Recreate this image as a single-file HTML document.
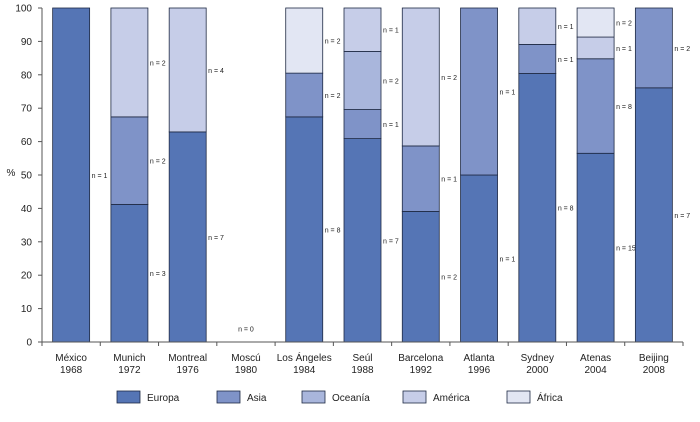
<!DOCTYPE html>
<html><head><meta charset="utf-8"><style>
body{margin:0;background:#fff;}
svg{font-family:"Liberation Sans",sans-serif;}
</style></head><body>
<svg id="chart" width="700" height="417"></svg>
<script>
const categories=["México\n1968","Munich\n1972","Montreal\n1976","Moscú\n1980","Los Ángeles\n1984","Seúl\n1988","Barcelona\n1992","Atlanta\n1996","Sydney\n2000","Atenas\n2004","Beijing\n2008"];
const seriesNames=["Europa","Asia","Oceanía","América","África"];
const europa=[100,41.2,62.9,0,67.4,60.9,39.1,50,80.4,56.5,76.1];
const asia=[0,26.2,0,0,13.1,8.7,19.6,50,8.7,28.3,23.9];
const oceania=[0,0,0,0,0,17.4,0,0,0,0,0];
const america=[0,32.6,37.1,0,0,13,41.3,0,10.9,6.5,0];
const africa=[0,0,0,0,19.5,0,0,0,0,8.7,0];
const nEuropa=[1,3,7,0,8,7,2,1,8,15,7];
const nAsia=[0,2,0,0,2,1,1,1,1,8,2];
const nOceania=[0,0,0,0,0,2,0,0,0,0,0];
const nAmerica=[0,2,4,0,0,1,2,0,1,1,0];
const nAfrica=[0,0,0,0,2,0,0,0,0,2,0];
const yTicks=[0,10,20,30,40,50,60,70,80,90,100];

const colors=["#5575b5","#7f93c8","#a9b6dc","#c6cde8","#e2e6f3"];
const series=[europa,asia,oceania,america,africa];
const nvals=[nEuropa,nAsia,nOceania,nAmerica,nAfrica];
const svg=document.getElementById('chart');
const NS="http://www.w3.org/2000/svg";
const x0=42,x1=683,y0=342,yTop=8;
const band=(x1-x0)/categories.length, bw=37;
const y=v=>y0-(v/100)*(y0-yTop);
const xc=i=>x0+band*(i+0.5);
function mk(tag,attrs,parent){const e=document.createElementNS(NS,tag);for(const k in attrs)e.setAttribute(k,attrs[k]);(parent||svg).appendChild(e);return e;}

yTicks.forEach(t=>{
 const l=mk('line',{x1:x0-4,x2:x0,y1:y(t),y2:y(t),stroke:'#555','stroke-width':1});
 
 
 const tx=mk('text',{x:x0-10,y:y(t)+3.5,'text-anchor':'end','font-size':10,fill:'#222'});
 tx.textContent=t;
 
 
});
const yt=mk('text',{x:11,y:176,'text-anchor':'middle','font-size':10,fill:'#222'});
yt.textContent='%';



categories.forEach((c,i)=>{
 let acc=0;
 series.forEach((s,k)=>{
  const v=s[i]; if(v<=0) return;
  const r=mk('rect',{x:xc(i)-bw/2,y:y(acc+v),width:bw,height:y(acc)-y(acc+v),fill:colors[k],stroke:'#1f2a44','stroke-width':0.8});
  
  
  const lb=mk('text',{x:xc(i)+bw/2+2,y:y(acc+v/2)+3,'font-size':7,fill:'#222'});
  lb.textContent='n = '+nvals[k][i];
  
  
  acc+=v;
 });
 if(acc===0){
  const lb=mk('text',{x:xc(i),y:y(4)+3,'text-anchor':'middle','font-size':7,fill:'#222'});
  lb.textContent='n = 0';
  
  
 }
 const parts=c.split('\n');
 parts.forEach((p,j)=>{
  const t=mk('text',{x:xc(i),y:361+j*12,'text-anchor':'middle','font-size':10,fill:'#222'});
  t.textContent=p;
  
  
 });
 const tk=mk('line',{x1:x0+band*(i+1),x2:x0+band*(i+1),y1:y0,y2:y0+4,stroke:'#555'});
 
 
});
const ax=mk('line',{x1:x0,x2:x0,y1:yTop,y2:y0+4,stroke:'#555'});


const bx=mk('line',{x1:x0,x2:x1,y1:y0,y2:y0,stroke:'#555'});



const lx=[117,217,302,403,507];
seriesNames.forEach((n,k)=>{
 const g=mk('g',{});
 
 
 mk('rect',{x:lx[k],y:391,width:23,height:12,fill:colors[k],stroke:'#1f2a44','stroke-width':0.8},g);
 const t=mk('text',{x:lx[k]+30,y:401,'font-size':10,fill:'#222'},g);
 t.textContent=n;
});
</script>
</body></html>
